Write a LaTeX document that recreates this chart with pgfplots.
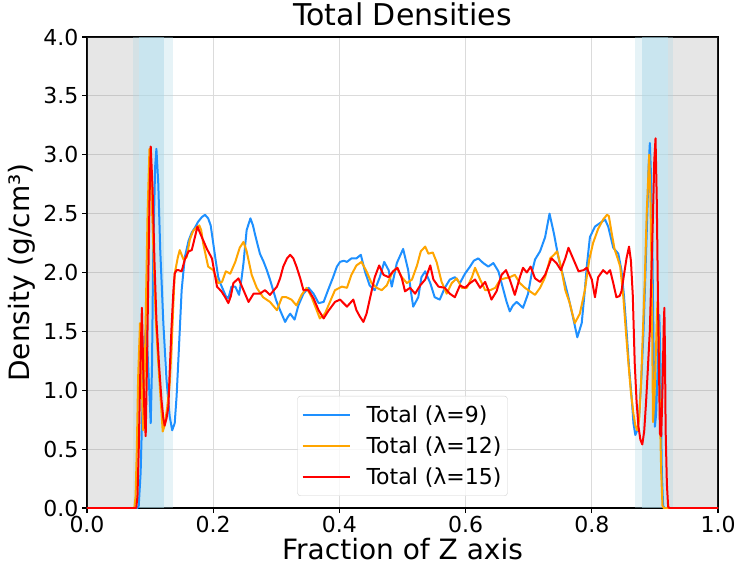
\documentclass[border=0pt]{standalone}
\usepackage{fontspec}
\setmainfont{DejaVu Sans}
\usepackage{pgfplots}
\pgfplotsset{compat=1.18}

\definecolor{cBlue}{RGB}{30,144,255}
\definecolor{cOrange}{RGB}{255,165,0}
\definecolor{cRed}{RGB}{255,0,0}
\definecolor{bandblue}{RGB}{173,216,230}

\begin{document}
\begin{tikzpicture}
\useasboundingbox (-87pt,-59pt) rectangle (651pt,508pt);
\begin{axis}[
  at={(0pt,0pt)}, anchor=south west,
  scale only axis, width=631pt, height=471pt,
  xmin=0, xmax=1, ymin=0, ymax=4,
  xtick={0,0.2,...,1.0}, ytick={0,0.5,...,4.0},
  xtick pos=bottom, ytick pos=left,
  tick align=outside, major tick length=5pt,
  tick style={black, line width=1.1pt},
  axis line style={black, line width=1.1pt},
  grid=major,
  major grid style={black!14, line width=1pt},
  /pgf/number format/assume math mode=true,
  /pgf/number format/.cd, fixed, fixed zerofill, precision=1, /pgfplots/.cd,
  tick label style={font=\fontsize{22}{26}\selectfont},
  title={Total Densities},
  title style={font=\fontsize{30}{35}\selectfont, at={(axis description cs:0.5,1.036)}, anchor=center},
  xlabel={Fraction of Z axis},
  xlabel style={font=\fontsize{28}{33}\selectfont, at={(axis description cs:0.5,-0.087)}, anchor=center},
  ylabel={Density (g/cm³)},
  ylabel style={font=\fontsize{28}{33}\selectfont, at={(axis description cs:-0.103,0.5)}, anchor=center},
  legend style={at={(0.5,0.0255)}, anchor=south, draw=black!18, rounded corners=3pt,
    fill=white, fill opacity=0.8, text opacity=1, font=\fontsize{22}{26}\selectfont,
    inner xsep=4pt, inner ysep=8pt, row sep=8.5pt,
    /tikz/every odd column/.append style={column sep=14pt}},
  legend cell align=left,
  legend image code/.code={\draw[#1] (-3pt,0pt) -- (44pt,0pt);},
  every axis plot/.append style={line join=round},
]
% vacuum regions
\addplot[draw=none, fill=gray, fill opacity=0.2, forget plot] coordinates {(0,4) (0.083,4)} \closedcycle;
\addplot[draw=none, fill=gray, fill opacity=0.2, forget plot] coordinates {(0.921,4) (1,4)} \closedcycle;
% interface bands, one per coupling strength
\addplot[draw=none, fill=bandblue, fill opacity=0.3, forget plot] coordinates {(0.073,4) (0.122,4)} \closedcycle;
\addplot[draw=none, fill=bandblue, fill opacity=0.3, forget plot] coordinates {(0.083,4) (0.136,4)} \closedcycle;
\addplot[draw=none, fill=bandblue, fill opacity=0.3, forget plot] coordinates {(0.083,4) (0.122,4)} \closedcycle;
\addplot[draw=none, fill=bandblue, fill opacity=0.3, forget plot] coordinates {(0.868,4) (0.921,4)} \closedcycle;
\addplot[draw=none, fill=bandblue, fill opacity=0.3, forget plot] coordinates {(0.879,4) (0.928,4)} \closedcycle;
\addplot[draw=none, fill=bandblue, fill opacity=0.3, forget plot] coordinates {(0.879,4) (0.921,4)} \closedcycle;

\addplot[cBlue, line width=2pt] table {
0 0
0.080 0
0.082 0.02
0.085 0.3
0.088 0.9
0.091 1.4
0.094 1.55
0.097 1.2
0.101 0.72
0.103 1.2
0.105 2.2
0.108 2.9
0.110 3.05
0.113 2.75
0.116 2.2
0.121 1.57
0.126 1.09
0.131 0.78
0.135 0.66
0.139 0.72
0.142 0.95
0.145 1.28
0.150 1.85
0.155 2.13
0.161 2.27
0.166 2.34
0.171 2.38
0.176 2.43
0.182 2.47
0.187 2.49
0.192 2.46
0.196 2.40
0.200 2.25
0.204 2.10
0.208 1.96
0.212 1.90
0.216 1.85
0.220 1.80
0.224 1.78
0.229 1.88
0.235 1.88
0.241 1.81
0.245 1.95
0.248 2.08
0.253 2.36
0.259 2.46
0.263 2.40
0.266 2.33
0.274 2.16
0.280 2.09
0.285 2.02
0.290 1.94
0.295 1.85
0.300 1.76
0.306 1.68
0.314 1.58
0.318 1.62
0.322 1.65
0.329 1.60
0.335 1.72
0.343 1.82
0.351 1.87
0.359 1.82
0.367 1.74
0.375 1.75
0.382 1.85
0.390 1.96
0.396 2.05
0.401 2.09
0.407 2.10
0.412 2.09
0.419 2.12
0.427 2.12
0.434 2.15
0.441 2.00
0.448 1.89
0.456 1.85
0.464 1.96
0.471 2.09
0.478 2.02
0.483 1.88
0.491 2.08
0.501 2.20
0.509 2.02
0.513 1.85
0.517 1.71
0.525 1.79
0.530 1.96
0.536 2.01
0.544 1.91
0.551 1.79
0.559 1.77
0.567 1.87
0.575 1.94
0.583 1.96
0.591 1.91
0.599 1.99
0.607 2.05
0.613 2.10
0.620 2.12
0.628 2.08
0.636 2.05
0.644 2.08
0.652 2.01
0.660 1.85
0.665 1.75
0.670 1.67
0.675 1.72
0.681 1.75
0.691 1.70
0.699 1.82
0.705 2.00
0.710 2.11
0.718 2.18
0.726 2.30
0.733 2.50
0.740 2.33
0.747 2.13
0.755 1.96
0.763 1.79
0.771 1.60
0.777 1.45
0.784 1.57
0.789 1.85
0.792 2.05
0.797 2.30
0.805 2.39
0.813 2.42
0.821 2.45
0.826 2.39
0.834 2.21
0.842 2.16
0.847 2.02
0.851 1.80
0.855 1.51
0.859 1.20
0.863 0.95
0.866 0.72
0.869 0.62
0.872 0.66
0.875 0.78
0.879 1.15
0.882 1.51
0.885 2.00
0.888 2.50
0.890 2.90
0.892 3.10
0.894 2.80
0.896 2.20
0.898 1.30
0.900 0.69
0.902 0.80
0.905 1.30
0.907 1.64
0.909 1.20
0.910 0.66
0.911 0.30
0.913 0.02
0.915 0
1 0
};
\addlegendentry{Total (λ=9)}

\addplot[cOrange, line width=2pt] table {
0 0
0.075 0
0.077 0.1
0.079 0.5
0.081 1.1
0.084 1.57
0.086 1.2
0.089 0.66
0.091 1.0
0.093 1.6
0.096 2.5
0.099 3.05
0.102 2.7
0.106 2.08
0.109 1.6
0.113 1.23
0.117 0.90
0.120 0.65
0.123 0.70
0.127 0.85
0.131 1.05
0.134 1.35
0.137 1.75
0.139 1.99
0.144 2.13
0.147 2.19
0.153 2.11
0.158 2.13
0.163 2.28
0.168 2.35
0.173 2.38
0.178 2.40
0.181 2.36
0.184 2.25
0.188 2.15
0.192 2.05
0.200 2.02
0.208 1.91
0.214 1.92
0.220 2.01
0.227 1.99
0.235 2.09
0.242 2.21
0.248 2.26
0.253 2.18
0.261 1.98
0.269 1.87
0.279 1.79
0.290 1.75
0.301 1.68
0.309 1.79
0.316 1.79
0.324 1.77
0.332 1.72
0.340 1.81
0.348 1.87
0.356 1.79
0.364 1.68
0.369 1.61
0.377 1.65
0.385 1.75
0.393 1.85
0.404 1.88
0.412 1.87
0.419 1.98
0.427 2.06
0.435 2.09
0.443 2.01
0.451 1.91
0.459 1.87
0.467 1.85
0.475 1.89
0.483 1.99
0.491 2.04
0.499 1.96
0.507 1.91
0.515 1.94
0.523 2.06
0.529 2.18
0.536 2.22
0.541 2.16
0.548 2.17
0.554 2.09
0.562 1.92
0.570 1.82
0.578 1.91
0.586 1.95
0.594 1.87
0.602 1.87
0.610 1.96
0.615 2.04
0.623 1.94
0.631 1.85
0.639 1.85
0.647 1.87
0.655 1.94
0.662 1.95
0.670 1.96
0.678 1.98
0.686 1.91
0.694 1.87
0.702 1.84
0.710 1.81
0.718 1.87
0.726 1.96
0.734 2.12
0.740 2.15
0.745 2.18
0.751 2.05
0.758 1.85
0.765 1.74
0.773 1.57
0.781 1.65
0.789 1.85
0.796 2.11
0.802 2.25
0.810 2.37
0.818 2.45
0.824 2.49
0.827 2.48
0.831 2.35
0.836 2.20
0.841 2.12
0.845 2.05
0.850 1.79
0.854 1.50
0.858 1.23
0.862 0.98
0.866 0.80
0.869 0.70
0.872 0.66
0.875 0.75
0.878 1.05
0.881 1.50
0.884 1.94
0.887 2.50
0.891 3.00
0.893 2.60
0.895 1.90
0.897 0.73
0.899 0.90
0.902 1.40
0.904 1.75
0.906 1.50
0.908 0.80
0.910 0.30
0.912 0.02
0.914 0
1 0
};
\addlegendentry{Total (λ=12)}

\addplot[cRed, line width=2pt] table {
0 0
0.078 0
0.080 0.1
0.082 0.5
0.085 1.3
0.087 1.70
0.089 1.2
0.091 0.8
0.093 0.61
0.095 1.2
0.097 1.9
0.099 2.6
0.101 3.07
0.104 2.7
0.107 2.08
0.110 1.6
0.114 1.23
0.118 0.92
0.121 0.76
0.123 0.70
0.126 0.76
0.129 0.86
0.131 1.15
0.134 1.54
0.137 1.85
0.139 1.99
0.142 2.02
0.145 2.02
0.150 2.01
0.155 2.11
0.161 2.18
0.166 2.19
0.171 2.30
0.175 2.39
0.182 2.30
0.190 2.20
0.198 2.12
0.202 2.00
0.206 1.88
0.213 1.84
0.219 1.79
0.224 1.74
0.228 1.80
0.232 1.91
0.240 1.95
0.248 1.85
0.256 1.75
0.264 1.82
0.274 1.82
0.282 1.85
0.290 1.81
0.301 1.88
0.306 1.95
0.311 2.05
0.317 2.12
0.322 2.15
0.327 2.12
0.332 2.05
0.338 1.95
0.343 1.85
0.351 1.85
0.359 1.78
0.367 1.68
0.375 1.61
0.382 1.67
0.393 1.75
0.401 1.77
0.412 1.71
0.417 1.74
0.422 1.77
0.427 1.68
0.432 1.63
0.438 1.58
0.443 1.65
0.448 1.77
0.456 1.96
0.463 2.06
0.470 1.98
0.478 1.96
0.485 2.01
0.492 2.04
0.499 1.95
0.504 1.84
0.512 1.87
0.520 1.82
0.528 1.89
0.536 1.94
0.544 2.06
0.549 1.94
0.557 1.88
0.567 1.87
0.575 1.82
0.583 1.79
0.591 1.89
0.599 1.87
0.607 1.91
0.615 1.94
0.623 1.87
0.631 1.92
0.636 1.85
0.641 1.77
0.649 1.84
0.657 1.98
0.664 2.02
0.670 1.94
0.678 1.81
0.686 1.96
0.691 2.04
0.697 2.00
0.703 2.05
0.710 1.95
0.718 1.92
0.726 1.98
0.736 2.12
0.744 2.08
0.751 2.02
0.758 2.12
0.763 2.21
0.771 2.11
0.779 2.01
0.787 2.02
0.792 2.04
0.800 1.94
0.805 1.79
0.810 1.96
0.818 2.02
0.824 1.99
0.829 2.02
0.834 1.91
0.839 1.79
0.844 1.80
0.847 1.84
0.851 1.98
0.855 2.12
0.859 2.22
0.862 2.10
0.865 1.80
0.868 1.23
0.871 0.90
0.874 0.69
0.877 0.58
0.880 0.54
0.883 0.65
0.886 0.90
0.889 1.20
0.892 1.51
0.895 2.10
0.897 2.50
0.899 2.95
0.901 3.14
0.903 2.60
0.905 1.70
0.907 1.00
0.908 0.63
0.910 0.61
0.912 1.00
0.914 1.55
0.915 1.70
0.916 1.30
0.917 0.66
0.919 0.20
0.921 0.01
0.923 0
1 0
};
\addlegendentry{Total (λ=15)}
\end{axis}
\end{tikzpicture}
\end{document}
